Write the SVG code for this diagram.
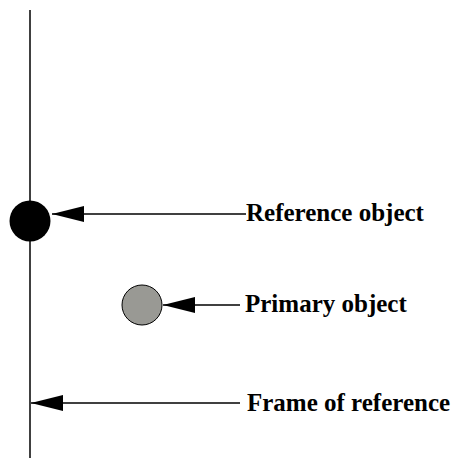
<svg xmlns="http://www.w3.org/2000/svg" width="453" height="458" viewBox="0 0 453 458">
<style>
.lbl{font-family:"Liberation Serif","Times New Roman",serif;font-weight:bold;font-size:25px;fill:#000}
.ln{stroke:#000;stroke-width:1.5;fill:none}
</style>
<defs>
<marker id="ah" markerWidth="32" markerHeight="16" refX="32" refY="8" orient="auto" markerUnits="userSpaceOnUse">
<path d="M32,8 L0,0 L0,16 Z" fill="#000"/>
</marker>
</defs>
<rect width="453" height="458" fill="#fff"/>
<g id="frame-axis"><line class="ln" x1="30" y1="10" x2="30" y2="458"/></g>
<g id="reference-object"><circle cx="30" cy="221" r="20.5" fill="#000"/></g>
<g id="primary-object"><circle cx="142" cy="305" r="20" fill="#999994" stroke="#000" stroke-width="1"/></g>
<g id="connectors">
<line class="ln" x1="246" y1="214" x2="52" y2="214" marker-end="url(#ah)"/>
<line class="ln" x1="240" y1="305" x2="163" y2="305" marker-end="url(#ah)"/>
<line class="ln" x1="240" y1="403" x2="31" y2="403" marker-end="url(#ah)"/>
</g>
<g id="labels">
<text class="lbl" x="246" y="221">Reference object</text>
<text class="lbl" x="245" y="312">Primary object</text>
<text class="lbl" x="247" y="411">Frame of reference</text>
</g>
</svg>
